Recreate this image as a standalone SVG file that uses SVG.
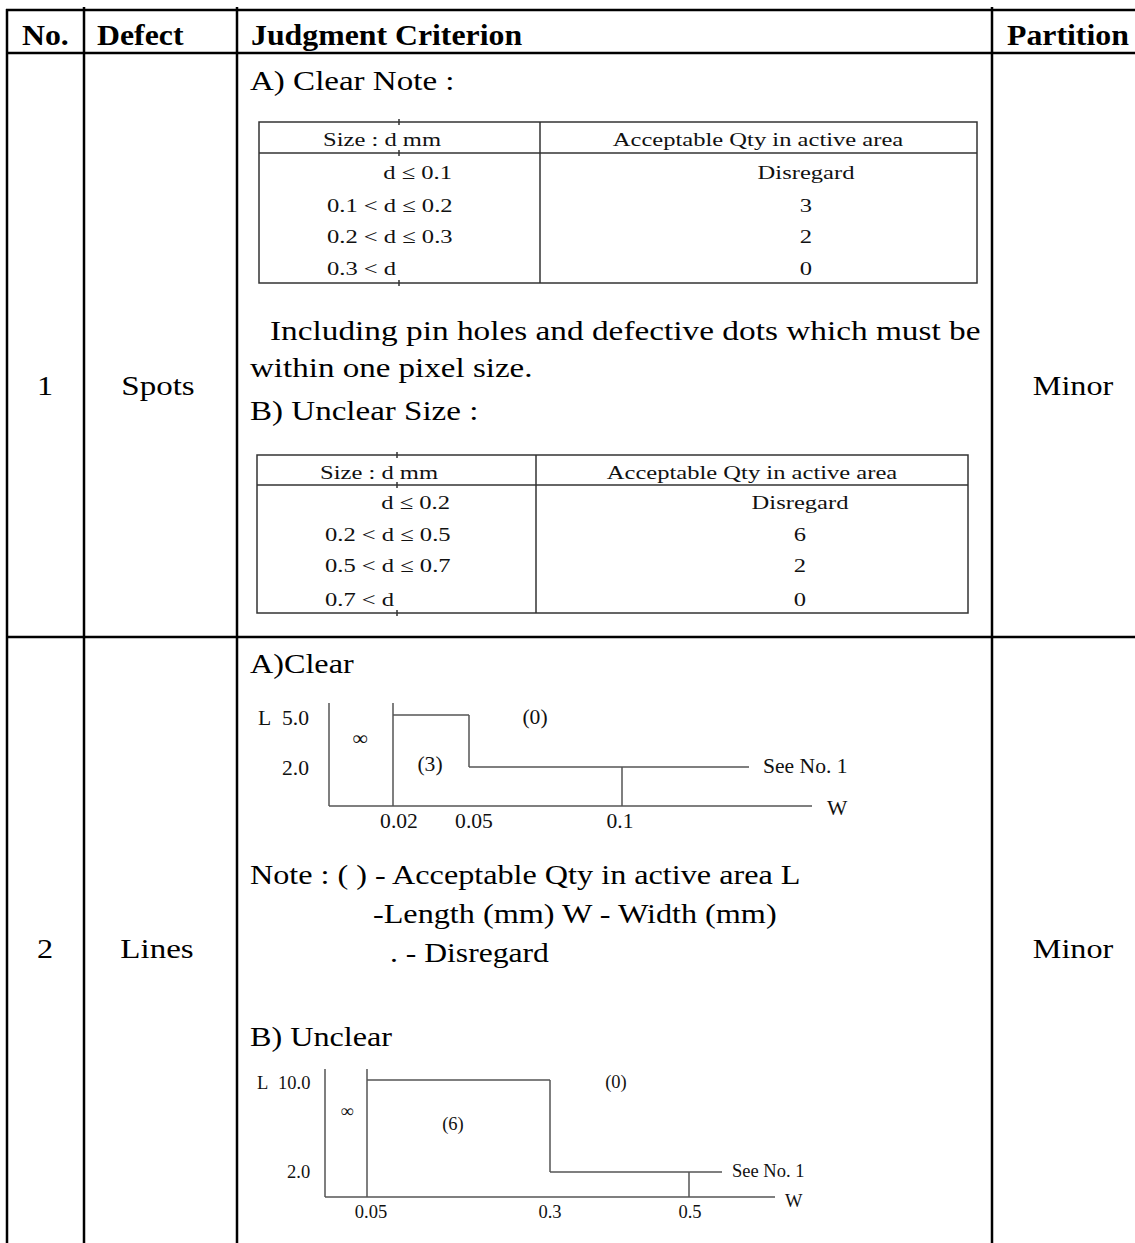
<svg xmlns="http://www.w3.org/2000/svg" width="1135" height="1243" viewBox="0 0 1135 1243">
<style>
text{font-family:"Liberation Serif","Times New Roman",serif;fill:#000}
.hdr{font-weight:bold;font-size:30px}
.bd{font-size:28px}
.it{font-size:19.5px;fill:#111}
.ca{font-size:20px;fill:#111}
.cb{font-size:18.5px;fill:#111}
.mid{text-anchor:middle}
.end{text-anchor:end}
.grid line{stroke:#000;stroke-width:2.5}
.itbl line,.itbl rect{stroke:#333;stroke-width:1.5;fill:none}
.chart line{stroke:#555;stroke-width:1.5}
</style>
<rect width="1135" height="1243" fill="#fff"/>
<g id="grid" class="grid">
<line x1="6" y1="10" x2="1135" y2="10"/>
<line x1="6" y1="53" x2="1135" y2="53"/>
<line x1="6" y1="637" x2="1135" y2="637"/>
<line x1="7" y1="9" x2="7" y2="1243"/>
<line x1="84" y1="7" x2="84" y2="1243"/>
<line x1="237" y1="7" x2="237" y2="1243"/>
<line x1="992" y1="7" x2="992" y2="1243"/>
</g>
<g id="header">
<text class="hdr" transform="translate(22,45) scale(1.06,1)">No.</text>
<text class="hdr" transform="translate(97,45) scale(1.06,1)">Defect</text>
<text class="hdr" transform="translate(251,45) scale(1.06,1)">Judgment Criterion</text>
<text class="hdr" transform="translate(1007,45) scale(1.06,1)">Partition</text>
</g>
<g id="row1">
<text class="bd mid" transform="translate(45,395) scale(1.15,1)">1</text>
<text class="bd mid" transform="translate(158,395) scale(1.18,1)">Spots</text>
<text class="bd mid" transform="translate(1073,395) scale(1.15,1)">Minor</text>
<text class="bd" transform="translate(250,90) scale(1.18,1)">A) Clear Note :</text>
<text class="bd" transform="translate(270,340) scale(1.19,1)">Including pin holes and defective dots which must be</text>
<text class="bd" transform="translate(250,377) scale(1.18,1)">within one pixel size.</text>
<text class="bd" transform="translate(250,420) scale(1.18,1)">B) Unclear Size :</text>
</g>
<g id="table-clear" class="itbl">
<rect x="259" y="122" width="718" height="161"/>
<line x1="259" y1="153" x2="977" y2="153"/>
<line x1="540" y1="122" x2="540" y2="283"/>
<line x1="399" y1="119" x2="399" y2="125"/>
<line x1="399" y1="150" x2="399" y2="156"/>
<line x1="399" y1="280" x2="399" y2="286"/>
<text class="it mid" transform="translate(382,146) scale(1.26,1)">Size : d mm</text>
<text class="it mid" transform="translate(758,146) scale(1.26,1)">Acceptable Qty in active area</text>
<text class="it end" transform="translate(452,179) scale(1.26,1)">d ≤ 0.1</text>
<text class="it" transform="translate(327,212) scale(1.26,1)">0.1 &lt; d ≤ 0.2</text>
<text class="it" transform="translate(327,243) scale(1.26,1)">0.2 &lt; d ≤ 0.3</text>
<text class="it" transform="translate(327,275) scale(1.26,1)">0.3 &lt; d</text>
<text class="it mid" transform="translate(806,179) scale(1.26,1)">Disregard</text>
<text class="it mid" transform="translate(806,212) scale(1.26,1)">3</text>
<text class="it mid" transform="translate(806,243) scale(1.26,1)">2</text>
<text class="it mid" transform="translate(806,275) scale(1.26,1)">0</text>
</g>
<g id="table-unclear" class="itbl">
<rect x="257" y="455" width="711" height="158"/>
<line x1="257" y1="485" x2="968" y2="485"/>
<line x1="536" y1="455" x2="536" y2="613"/>
<line x1="397" y1="452" x2="397" y2="458"/>
<line x1="397" y1="482" x2="397" y2="488"/>
<line x1="397" y1="610" x2="397" y2="616"/>
<text class="it mid" transform="translate(379,479) scale(1.26,1)">Size : d mm</text>
<text class="it mid" transform="translate(752,479) scale(1.26,1)">Acceptable Qty in active area</text>
<text class="it end" transform="translate(450,509) scale(1.26,1)">d ≤ 0.2</text>
<text class="it" transform="translate(325,541) scale(1.26,1)">0.2 &lt; d ≤ 0.5</text>
<text class="it" transform="translate(325,572) scale(1.26,1)">0.5 &lt; d ≤ 0.7</text>
<text class="it" transform="translate(325,606) scale(1.26,1)">0.7 &lt; d</text>
<text class="it mid" transform="translate(800,509) scale(1.26,1)">Disregard</text>
<text class="it mid" transform="translate(800,541) scale(1.26,1)">6</text>
<text class="it mid" transform="translate(800,572) scale(1.26,1)">2</text>
<text class="it mid" transform="translate(800,606) scale(1.26,1)">0</text>
</g>
<g id="row2">
<text class="bd mid" transform="translate(45,958) scale(1.15,1)">2</text>
<text class="bd mid" transform="translate(157,958) scale(1.18,1)">Lines</text>
<text class="bd mid" transform="translate(1073,958) scale(1.15,1)">Minor</text>
<text class="bd" transform="translate(250,673) scale(1.15,1)">A)Clear</text>
<text class="bd" transform="translate(250,884) scale(1.15,1)">Note : ( ) - Acceptable Qty in active area L</text>
<text class="bd" transform="translate(373,923) scale(1.15,1)">-Length (mm) W - Width (mm)</text>
<text class="bd" transform="translate(390,962) scale(1.13,1)">. - Disregard</text>
<text class="bd" transform="translate(250,1046) scale(1.15,1)">B) Unclear</text>
</g>
<g id="chart-clear" class="chart">
<line x1="329" y1="703" x2="329" y2="806"/>
<line x1="329" y1="806" x2="812" y2="806"/>
<line x1="393" y1="703" x2="393" y2="806"/>
<line x1="393" y1="715" x2="469" y2="715"/>
<line x1="469" y1="715" x2="469" y2="767"/>
<line x1="469" y1="767" x2="749" y2="767"/>
<line x1="622" y1="767" x2="622" y2="806"/>
<text class="ca" transform="translate(258,725) scale(1.08,1)">L</text>
<text class="ca" transform="translate(282,725) scale(1.08,1)">5.0</text>
<text class="ca" transform="translate(282,775) scale(1.08,1)">2.0</text>
<text class="ca mid" transform="translate(360,745) scale(1.08,1)">∞</text>
<text class="ca mid" transform="translate(430,771) scale(1.08,1)">(3)</text>
<text class="ca mid" transform="translate(535,724) scale(1.08,1)">(0)</text>
<text class="ca" transform="translate(763,773) scale(1.08,1)">See No. 1</text>
<text class="ca" transform="translate(827,815) scale(1.08,1)">W</text>
<text class="ca mid" transform="translate(399,828) scale(1.08,1)">0.02</text>
<text class="ca mid" transform="translate(474,828) scale(1.08,1)">0.05</text>
<text class="ca mid" transform="translate(620,828) scale(1.08,1)">0.1</text>
</g>
<g id="chart-unclear" class="chart">
<line x1="325" y1="1069" x2="325" y2="1197"/>
<line x1="325" y1="1197" x2="775" y2="1197"/>
<line x1="367" y1="1069" x2="367" y2="1197"/>
<line x1="367" y1="1080" x2="550" y2="1080"/>
<line x1="550" y1="1080" x2="550" y2="1172"/>
<line x1="550" y1="1172" x2="722" y2="1172"/>
<line x1="689" y1="1172" x2="689" y2="1197"/>
<text class="cb" x="257" y="1089">L</text>
<text class="cb" x="278" y="1089">10.0</text>
<text class="cb" x="287" y="1178">2.0</text>
<text class="cb mid" x="347" y="1117">∞</text>
<text class="cb mid" x="453" y="1130">(6)</text>
<text class="cb mid" x="616" y="1088">(0)</text>
<text class="cb" x="732" y="1177">See No. 1</text>
<text class="cb" x="785" y="1207">W</text>
<text class="cb mid" x="371" y="1218">0.05</text>
<text class="cb mid" x="550" y="1218">0.3</text>
<text class="cb mid" x="690" y="1218">0.5</text>
</g>
</svg>
